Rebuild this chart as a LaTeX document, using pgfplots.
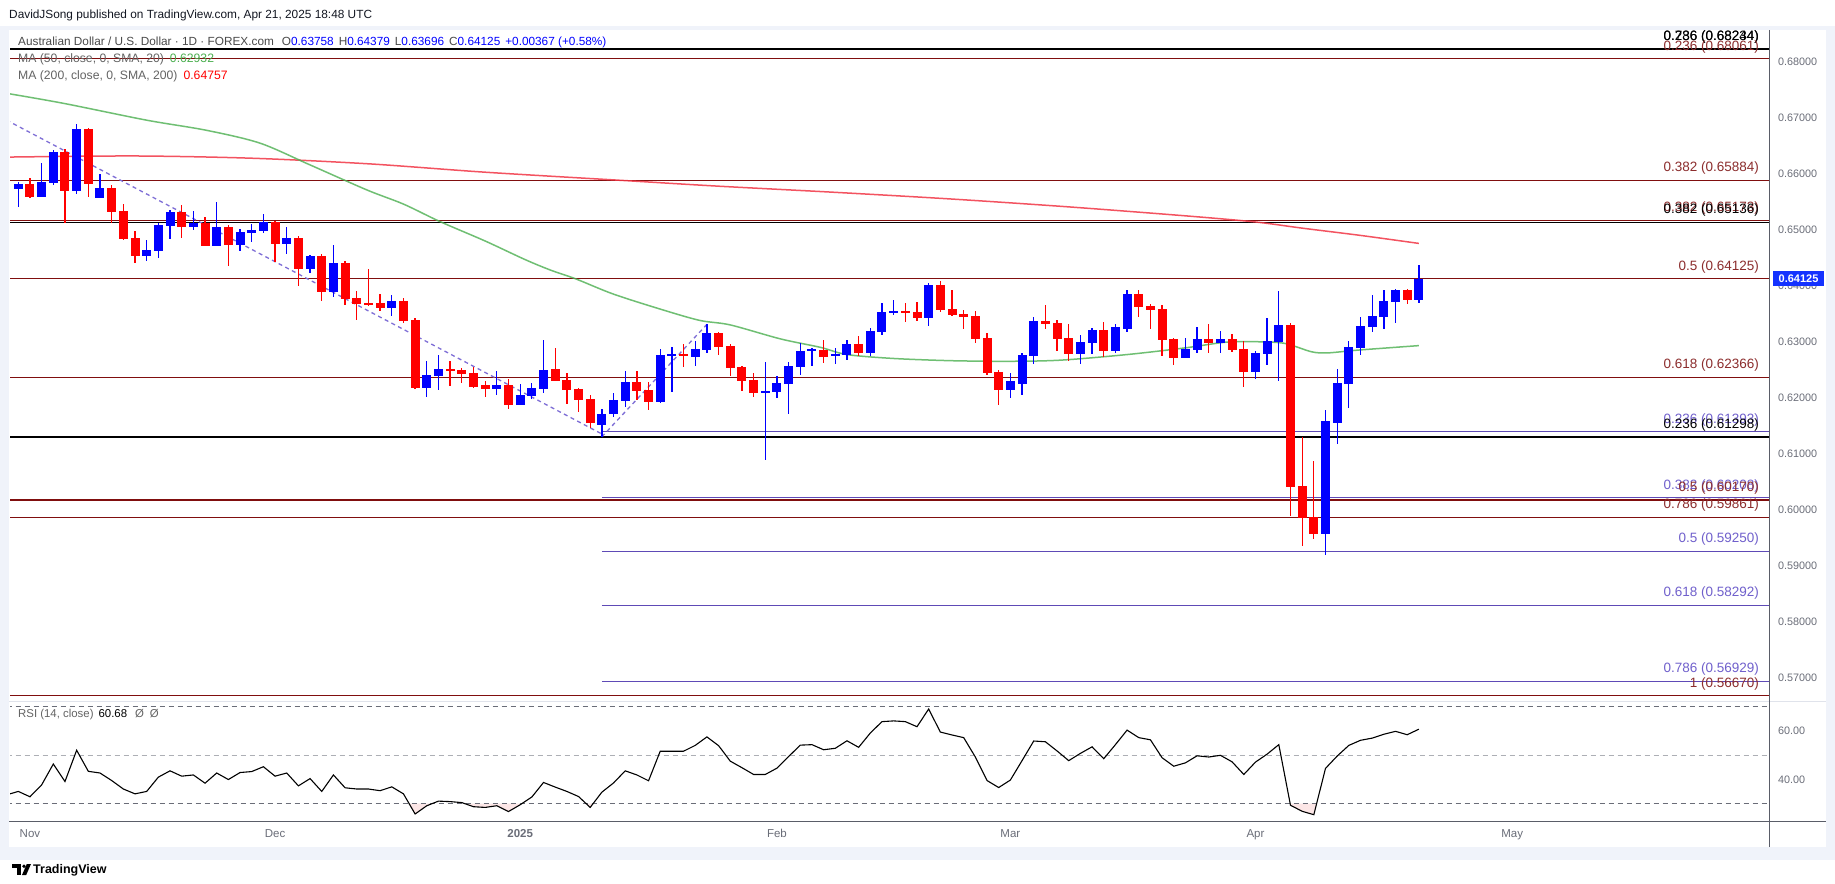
\documentclass[border=0pt]{standalone}
\usepackage{fontspec}
\setmainfont{Liberation Sans}
\usepackage{pgfplots}
\usepackage{pgfplotstable}
\pgfplotsset{compat=1.18}
\definecolor{tvgrey}{RGB}{106,109,120}
\definecolor{legendgrey}{RGB}{74,74,74}
\definecolor{magrey}{RGB}{100,100,100}
\definecolor{upblue}{RGB}{0,0,255}
\definecolor{dnred}{RGB}{255,0,0}
\definecolor{fibred}{RGB}{128,14,14}
\definecolor{fibredtxt}{RGB}{140,45,45}
\definecolor{fibpurple}{RGB}{94,74,182}
\definecolor{fibpurpletxt}{RGB}{112,96,204}
\definecolor{trend}{RGB}{126,110,214}
\definecolor{maA}{RGB}{76,175,80}
\definecolor{maB}{RGB}{242,54,69}
\definecolor{framegrey}{RGB}{240,243,250}
\definecolor{sepgrey}{RGB}{224,227,235}
\definecolor{axisdark}{RGB}{90,93,104}
\definecolor{tagblue}{RGB}{20,50,255}
\definecolor{rsipink}{RGB}{252,230,230}
\definecolor{headtxt}{RGB}{19,23,34}
\newcommand\fs[1]{\fontsize{#1}{#1}\selectfont}
\tikzset{fl/.style={anchor=base east, inner sep=0pt, yshift=8.5pt, font=\fs{13.5}}}
\pgfplotsset{candle/.style n args={2}{draw=none, mark=none, forget plot,
  error bars/.cd, y dir=both, y explicit, error mark=none,
  error bar style={draw=#1, line width=#2}}}

\pgfplotstableread{
i o h l c
0 0.6574 0.6585 0.6541 0.6581
2 0.6559 0.6620 0.6558 0.6585
3 0.6584 0.6642 0.6580 0.6639
5 0.6570 0.6689 0.6565 0.6680
7 0.6558 0.6600 0.6557 0.6575
11 0.6454 0.6482 0.6445 0.6464
12 0.6463 0.6513 0.6450 0.6509
13 0.6507 0.6535 0.6484 0.6532
15 0.6506 0.6534 0.6499 0.6512
17 0.6472 0.6550 0.6471 0.6505
19 0.6474 0.6502 0.6463 0.6496
20 0.6495 0.6510 0.6479 0.6500
21 0.6498 0.6528 0.6495 0.6513
23 0.6475 0.6505 0.6457 0.6485
25 0.6431 0.6455 0.6423 0.6453
27 0.6389 0.6473 0.6380 0.6441
32 0.6361 0.6383 0.6346 0.6373
35 0.6218 0.6266 0.6202 0.6240
36 0.6239 0.6276 0.6214 0.6251
41 0.6216 0.6248 0.6204 0.6223
43 0.6187 0.6224 0.6186 0.6205
44 0.6204 0.6226 0.6198 0.6217
45 0.6216 0.6303 0.6209 0.6250
50 0.6152 0.6180 0.6130 0.6170
51 0.6172 0.6208 0.6165 0.6196
52 0.6195 0.6248 0.6184 0.6228
55 0.6193 0.6287 0.6191 0.6275
56 0.6275 0.6291 0.6211 0.6277
58 0.6274 0.6301 0.6257 0.6287
59 0.6285 0.6332 0.6280 0.6316
64 0.6209 0.6264 0.6088 0.6211
65 0.6210 0.6239 0.6200 0.6226
66 0.6225 0.6264 0.6170 0.6257
67 0.6256 0.6298 0.6241 0.6283
68 0.6284 0.6289 0.6257 0.6286
70 0.6274 0.6289 0.6260 0.6277
71 0.6277 0.6303 0.6268 0.6296
73 0.6280 0.6325 0.6275 0.6319
74 0.6317 0.6369 0.6312 0.6353
75 0.6351 0.6375 0.6348 0.6355
78 0.6342 0.6405 0.6328 0.6401
85 0.6215 0.6245 0.6200 0.6230
86 0.6225 0.6280 0.6205 0.6275
87 0.6275 0.6344 0.6260 0.6337
91 0.6279 0.6312 0.6261 0.6299
92 0.6298 0.6325 0.6279 0.6321
94 0.6284 0.6332 0.6280 0.6325
95 0.6323 0.6392 0.6318 0.6385
100 0.6272 0.6307 0.6270 0.6287
101 0.6286 0.6326 0.6280 0.6305
103 0.6298 0.6319 0.6280 0.6305
106 0.6246 0.6283 0.6234 0.6280
107 0.6279 0.6342 0.6259 0.6301
108 0.6300 0.6391 0.6229 0.6330
112 0.5957 0.6178 0.5918 0.6157
113 0.6155 0.6251 0.6118 0.6226
114 0.6225 0.6301 0.6182 0.6291
115 0.6289 0.6344 0.6277 0.6328
116 0.6326 0.6384 0.6317 0.6346
117 0.6344 0.6392 0.6323 0.6373
118 0.6371 0.6394 0.6334 0.6392
120 0.63758 0.64379 0.63696 0.64125
}\up

\pgfplotstableread{
i o h l c
1 0.6581 0.6592 0.6556 0.6559
4 0.6639 0.6644 0.6513 0.6570
6 0.6680 0.6682 0.6559 0.6583
8 0.6575 0.6581 0.6513 0.6533
9 0.6534 0.6546 0.6482 0.6484
10 0.6485 0.6498 0.6441 0.6454
14 0.6532 0.6544 0.6486 0.6506
16 0.6512 0.6523 0.6471 0.6472
18 0.6505 0.6509 0.6436 0.6474
22 0.6513 0.6515 0.6443 0.6475
24 0.6485 0.6489 0.6400 0.6431
26 0.6453 0.6457 0.6373 0.6389
28 0.6441 0.6444 0.6366 0.6377
29 0.6378 0.6391 0.6338 0.6368
30 0.6369 0.6430 0.6363 0.6367
31 0.6369 0.6385 0.6354 0.6361
33 0.6373 0.6378 0.6334 0.6338
34 0.6339 0.6342 0.6216 0.6218
37 0.6251 0.6266 0.6221 0.6248
38 0.6249 0.6253 0.6227 0.6243
39 0.6244 0.6255 0.6218 0.6220
40 0.6222 0.6230 0.6202 0.6216
42 0.6223 0.6233 0.6180 0.6187
46 0.6250 0.6289 0.6229 0.6230
47 0.6231 0.6244 0.6189 0.6214
48 0.6216 0.6218 0.6175 0.6196
49 0.6197 0.6205 0.6145 0.6155
53 0.6228 0.6248 0.6195 0.6212
54 0.6214 0.6228 0.6178 0.6193
57 0.6277 0.6296 0.6255 0.6275
60 0.6316 0.6317 0.6276 0.6291
61 0.6292 0.6296 0.6239 0.6254
62 0.6255 0.6257 0.6212 0.6230
63 0.6231 0.6244 0.6202 0.6209
69 0.6285 0.6303 0.6262 0.6274
72 0.6296 0.6310 0.6275 0.6280
76 0.6355 0.6369 0.6335 0.6353
77 0.6353 0.6371 0.6337 0.6342
79 0.6401 0.6409 0.6353 0.6357
80 0.6358 0.6392 0.6346 0.6348
81 0.6350 0.6357 0.6323 0.6344
82 0.6346 0.6355 0.6298 0.6305
83 0.6307 0.6315 0.6240 0.6245
84 0.6245 0.6250 0.6187 0.6215
88 0.6337 0.6366 0.6323 0.6332
89 0.6333 0.6339 0.6283 0.6305
90 0.6307 0.6332 0.6266 0.6279
93 0.6321 0.6335 0.6272 0.6284
96 0.6385 0.6392 0.6344 0.6362
97 0.6364 0.6367 0.6323 0.6357
98 0.6358 0.6366 0.6274 0.6304
99 0.6305 0.6307 0.6259 0.6272
102 0.6305 0.6332 0.6280 0.6298
104 0.6305 0.6314 0.6282 0.6286
105 0.6287 0.6301 0.6220 0.6246
109 0.6330 0.6334 0.5989 0.6041
110 0.6042 0.6130 0.5934 0.5986
111 0.5986 0.6087 0.5948 0.5957
119 0.6392 0.6394 0.6367 0.6375
}\dn

\pgfplotstableread{
i v
-1 0.6744
3.9 0.6726
11 0.6696
16.1 0.6678
20.7 0.6655
25 0.6616
29.9 0.6571
33 0.6546
36.1 0.6515
40 0.6480
43.4 0.6447
45.6 0.6428
47.8 0.6412
51 0.6385
55.2 0.6357
58.4 0.6338
61 0.6330
65.3 0.6305
68.7 0.6290
71 0.6277
75 0.6270
80 0.6266
85 0.6265
89.3 0.6267
95 0.6277
100 0.6289
103.4 0.6299
106 0.6300
108.5 0.6297
110.8 0.6282
112.2 0.6280
114.8 0.6285
120 0.6293
}\maF

\pgfplotstableread{
i v
-1 0.6630
10 0.6632
20 0.6628
30 0.6618
40 0.6603
52 0.6588
60 0.6578
70 0.6567
80 0.6555
90 0.6541
100 0.6525
106 0.6514
110 0.6503
115 0.6490
120 0.64757
}\maT

\pgfplotstableread{
i r
-1 33.6
0 35.0
1 32.8
2 37.7
3 46.3
4 39.1
5 52.0
6 43.3
7 42.6
8 39.5
9 36.0
10 34.0
11 35.0
12 40.9
13 43.5
14 41.3
15 41.8
16 38.4
17 42.6
18 39.9
19 42.8
20 43.2
21 45.2
22 41.3
23 42.6
24 37.3
25 40.3
26 35.0
27 41.8
28 36.5
29 36.0
30 36.0
31 35.3
32 36.9
33 34.0
34 25.7
35 29.1
36 31.0
37 30.8
38 30.4
39 28.7
40 28.4
41 29.1
42 26.7
43 29.5
44 32.7
45 38.7
46 36.8
47 35.0
48 32.9
49 28.4
50 34.7
51 38.5
52 43.5
53 41.8
54 39.4
55 51.6
56 51.6
57 51.6
58 54.0
59 57.5
60 53.9
61 47.5
62 44.8
63 42.0
64 42.0
65 44.6
66 49.4
67 54.1
68 54.3
69 52.2
70 52.8
71 55.9
72 53.2
73 59.1
74 63.8
75 64.1
76 63.8
77 61.7
78 69.0
79 59.5
80 58.3
81 57.2
82 49.2
83 39.5
84 36.6
85 39.7
86 47.7
87 55.8
88 55.5
89 51.7
90 47.7
91 50.7
92 53.4
93 48.5
94 54.3
95 60.3
96 57.2
97 56.3
98 48.9
99 45.4
100 46.8
101 49.7
102 49.2
103 49.9
104 47.2
105 42.0
106 47.1
107 50.4
108 54.3
109 29.3
110 26.8
111 25.4
112 44.5
113 49.6
114 54.0
115 56.1
116 57.0
117 58.6
118 59.8
119 58.4
120 60.68
}\rsi

\begin{document}
\begin{tikzpicture}
\useasboundingbox (0pt,0pt) rectangle (1835pt,883pt);
\fill[white] (0pt,0pt) rectangle (1835pt,883pt);
\fill[framegrey] (0pt,23pt) rectangle (1835pt,857pt);
\fill[white] (9pt,36pt) rectangle (1826pt,853pt);

% ---------------- price pane ----------------
\begin{axis}[at={(10pt,182pt)}, anchor=south west, scale only axis,
  width=1759pt, height=673pt,
  xmin=-0.711, xmax=150, ymin=0.56577, ymax=0.68608,
  axis line style={draw=none}, tick style={draw=none},
  xtick=\empty,
  ytick={0.57,0.58,0.59,0.60,0.61,0.62,0.63,0.64,0.65,0.66,0.67,0.68},
  yticklabel pos=right, scaled y ticks=false,
  /pgf/number format/assume math mode=true,
  yticklabel style={/pgf/number format/fixed, /pgf/number format/fixed zerofill,
    /pgf/number format/precision=5, font=\fs{10.8}, text=tvgrey,
    anchor=west, inner sep=0pt, xshift=9pt},
  clip mode=individual]

% fib / horizontal levels
\addplot[black, line width=1.3pt] coordinates {(-1,0.68234) (151,0.68234)};
\addplot[fibred, line width=1.1pt] coordinates {(-1,0.68061) (151,0.68061)};
\addplot[fibred, line width=1.1pt] coordinates {(-1,0.65884) (151,0.65884)};
\addplot[fibred, line width=1.1pt] coordinates {(-1,0.65173) (151,0.65173)};
\addplot[black, line width=1.3pt] coordinates {(-1,0.65136) (151,0.65136)};
\addplot[fibred, line width=1.1pt] coordinates {(-1,0.64125) (151,0.64125)};
\addplot[fibred, line width=1.1pt] coordinates {(-1,0.62366) (151,0.62366)};
\addplot[fibpurple, line width=1.1pt] coordinates {(50,0.61393) (151,0.61393)};
\addplot[black, line width=1.3pt] coordinates {(-1,0.61298) (151,0.61298)};
\addplot[fibpurple, line width=1.1pt] coordinates {(50,0.60208) (151,0.60208)};
\addplot[fibred, line width=1.1pt] coordinates {(-1,0.60170) (151,0.60170)};
\addplot[fibred, line width=1.1pt] coordinates {(-1,0.59861) (151,0.59861)};
\addplot[fibpurple, line width=1.1pt] coordinates {(50,0.59250) (151,0.59250)};
\addplot[fibpurple, line width=1.1pt] coordinates {(50,0.58292) (151,0.58292)};
\addplot[fibpurple, line width=1.1pt] coordinates {(50,0.56929) (151,0.56929)};
\addplot[fibred, line width=1.1pt] coordinates {(-1,0.56670) (151,0.56670)};

% trend lines
\addplot[trend, line width=1.3pt, dash pattern=on 4pt off 3.5pt] coordinates {(-1,0.6696) (50,0.6135)};
\addplot[trend, line width=1.3pt, dash pattern=on 4pt off 3.5pt] coordinates {(50,0.6130) (59,0.6331)};

% moving averages
\addplot[maB, line width=1.5pt, opacity=0.85, smooth] table[x=i,y=v] {\maT};
\addplot[maA, line width=1.5pt, opacity=0.8, smooth] table[x=i,y=v] {\maF};

% candles: wicks
\addplot[candle={upblue}{1.3pt}]
  table[x=i, y expr=(\thisrow{h}+\thisrow{l})/2, y error expr=(\thisrow{h}-\thisrow{l})/2] {\up};
\addplot[candle={dnred}{1.3pt}]
  table[x=i, y expr=(\thisrow{h}+\thisrow{l})/2, y error expr=(\thisrow{h}-\thisrow{l})/2] {\dn};
% candles: bodies
\addplot[candle={upblue}{9pt}]
  table[x=i, y expr=(\thisrow{o}+\thisrow{c})/2, y error expr=abs(\thisrow{c}-\thisrow{o})/2+0.00004] {\up};
\addplot[candle={dnred}{9pt}]
  table[x=i, y expr=(\thisrow{o}+\thisrow{c})/2, y error expr=abs(\thisrow{c}-\thisrow{o})/2+0.00004] {\dn};

% level labels
\node[fl, text=black] at (axis cs:149.16,0.68234) {0.236 (0.68244)};
\node[fl, text=black] at (axis cs:149.16,0.68234) {0.786 (0.68234)};
\node[fl, text=fibredtxt] at (axis cs:149.16,0.68061) {0.236 (0.68061)};
\node[fl, text=fibredtxt] at (axis cs:149.16,0.65884) {0.382 (0.65884)};
\node[fl, text=fibredtxt] at (axis cs:149.16,0.65173) {0.382 (0.65173)};
\node[fl, text=black] at (axis cs:149.16,0.65136) {0.382 (0.65136)};
\node[fl, text=fibredtxt] at (axis cs:149.16,0.64125) {0.5 (0.64125)};
\node[fl, text=fibredtxt] at (axis cs:149.16,0.62366) {0.618 (0.62366)};
\node[fl, text=fibpurpletxt] at (axis cs:149.16,0.61393) {0.236 (0.61393)};
\node[fl, text=black] at (axis cs:149.16,0.61298) {0.236 (0.61298)};
\node[fl, text=fibpurpletxt] at (axis cs:149.16,0.60208) {0.382 (0.60208)};
\node[fl, text=fibredtxt] at (axis cs:149.16,0.60170) {0.5 (0.60170)};
\node[fl, text=fibredtxt] at (axis cs:149.16,0.59861) {0.786 (0.59861)};
\node[fl, text=fibpurpletxt] at (axis cs:149.16,0.59250) {0.5 (0.59250)};
\node[fl, text=fibpurpletxt] at (axis cs:149.16,0.58292) {0.618 (0.58292)};
\node[fl, text=fibpurpletxt] at (axis cs:149.16,0.56929) {0.786 (0.56929)};
\node[fl, text=fibredtxt] at (axis cs:149.16,0.56670) {1 (0.56670)};
\end{axis}

% ---------------- RSI pane ----------------
\begin{axis}[at={(10pt,62pt)}, anchor=south west, scale only axis,
  width=1759pt, height=119pt,
  xmin=-0.711, xmax=150, ymin=22.8, ymax=71.9,
  axis line style={draw=none}, tick style={draw=none},
  ytick={40,60}, yticklabel pos=right,
  /pgf/number format/assume math mode=true,
  yticklabel style={/pgf/number format/fixed, /pgf/number format/fixed zerofill,
    /pgf/number format/precision=2, font=\fs{10.8}, text=tvgrey,
    anchor=west, inner sep=0pt, xshift=9pt},
  xtick={1,22,43,65,85,106,128},
  xticklabels={Nov,Dec,\textbf{2025},Feb,Mar,Apr,May},
  xticklabel style={font=\fs{11.5}, text=tvgrey, anchor=base, inner sep=0pt, yshift=-16pt},
  clip mode=individual]
\addplot[fill=rsipink, draw=none] coordinates {(33.48,30) (34,25.7) (35,29.1) (35.47,30)};
\addplot[fill=rsipink, draw=none] coordinates {(38.24,30) (39,28.7) (40,28.4) (41,29.1) (42,26.7) (43,29.5) (43.16,30)};
\addplot[fill=rsipink, draw=none] coordinates {(48.64,30) (49,28.4) (49.25,30)};
\addplot[fill=rsipink, draw=none] coordinates {(108.97,30) (109,29.3) (110,26.8) (111,25.4) (111.24,30)};
\addplot[tvgrey, line width=0.9pt, dash pattern=on 5pt off 4pt] coordinates {(-1,70) (151,70)};
\addplot[tvgrey!55, line width=0.9pt, dash pattern=on 5pt off 4pt] coordinates {(-1,50) (151,50)};
\addplot[tvgrey, line width=0.9pt, dash pattern=on 5pt off 4pt] coordinates {(-1,30) (151,30)};
\addplot[black, line width=1.1pt] table[x=i,y=r] {\rsi};
\end{axis}

% separators
\draw[sepgrey, line width=1pt] (9pt,181pt) -- (1826pt,181pt);
\draw[axisdark, line width=1pt] (9pt,62pt) -- (1826pt,62pt);
\draw[axisdark, line width=1pt] (1769pt,36pt) -- (1769pt,853pt);

% last price tag
\fill[tagblue] (1773pt,596.8pt) rectangle (1824pt,611.8pt);
\node[text=white, font=\bfseries\fs{11}, inner sep=0pt] at (1798.5pt,604.3pt) {0.64125};

% header and legends
\node[anchor=west, inner sep=0pt, font=\fs{11.85}, text=headtxt] at (9pt,868pt) {DavidJSong published on TradingView.com, Apr 21, 2025 18:48 UTC};
\node[anchor=west, inner sep=0pt, font=\fs{11.8}] at (18pt,840.7pt) {\textcolor{legendgrey}{Australian Dollar / U.S. Dollar · 1D · FOREX.com}\hspace{8pt}\textcolor{legendgrey}{O}\textcolor{upblue}{0.63758}\hspace{5pt}\textcolor{legendgrey}{H}\textcolor{upblue}{0.64379}\hspace{5pt}\textcolor{legendgrey}{L}\textcolor{upblue}{0.63696}\hspace{5pt}\textcolor{legendgrey}{C}\textcolor{upblue}{0.64125}\hspace{5pt}\textcolor{upblue}{+0.00367 (+0.58\%)}};
\node[anchor=west, inner sep=0pt, font=\fs{12.2}] at (18pt,824pt) {\textcolor{magrey}{MA (50, close, 0, SMA, 20)}\hspace{6pt}\textcolor{maA}{0.62932}};
\node[anchor=west, inner sep=0pt, font=\fs{12.2}] at (18pt,807pt) {\textcolor{magrey}{MA (200, close, 0, SMA, 200)}\hspace{6pt}\textcolor{dnred}{0.64757}};
\node[anchor=west, inner sep=0pt, font=\fs{11.4}] at (18pt,168.3pt) {\textcolor{magrey}{RSI (14, close)}\hspace{5pt}\textcolor{black}{60.68}\hspace{8pt}\textcolor{magrey}{Ø\hspace{6pt}Ø}};

% footer logo
\fill[black] (12pt,15pt) rectangle (20.5pt,19pt);
\fill[black] (16.5pt,8pt) rectangle (20.5pt,19pt);
\fill[black] (24pt,16.8pt) circle (1.9pt);
\fill[black] (22pt,8pt) -- (26.2pt,8pt) -- (31pt,19pt) -- (26.8pt,19pt) -- cycle;
\node[anchor=west, inner sep=0pt, font=\bfseries\fs{12.5}] at (33pt,13pt) {TradingView};
\end{tikzpicture}
\end{document}
